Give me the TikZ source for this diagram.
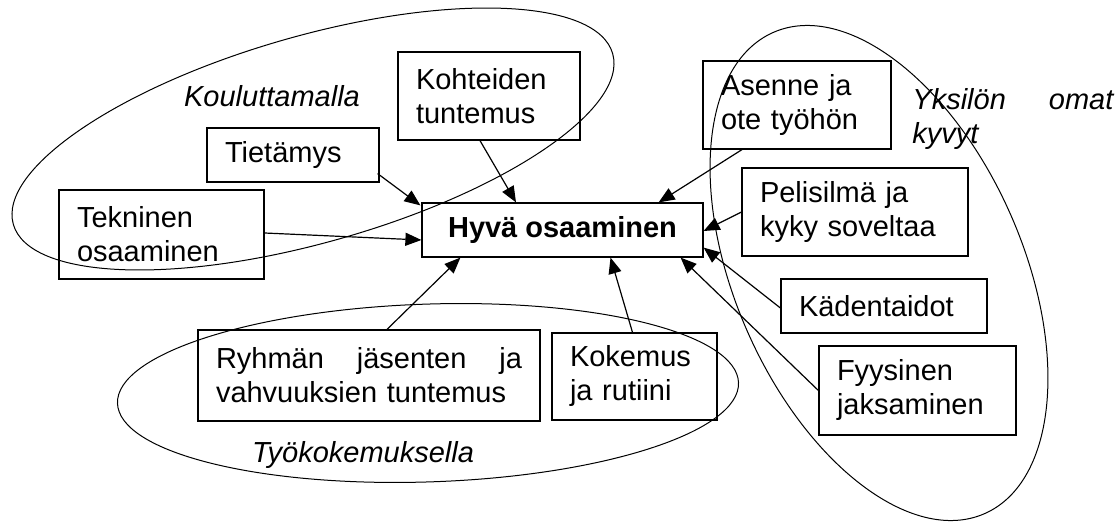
\documentclass[tikz,border=0pt]{standalone}
\usepackage{fontspec}
\setmainfont{Liberation Sans}
\usetikzlibrary{calc,arrows.meta}

\tikzset{
  laatikko/.style={draw, line width=0.6pt, inner xsep=9pt, inner ysep=0pt, align=left,
    font=\fontsize{14.5}{17}\selectfont},
  nuoli/.style={-{Triangle[length=8pt,width=6.5pt]}, line width=0.6pt},
  kehys/.style={line width=0.5pt},
  otsikko/.style={font=\fontsize{14.5}{17}\selectfont\itshape, inner sep=0pt}
}

\begin{document}
\begin{tikzpicture}[x=0.5pt,y=-0.5pt]
\useasboundingbox (0,0) rectangle (1120,524);

\node[laatikko, minimum width=140.5pt, minimum height=27pt, align=center,
  font=\fontsize{14.5}{17}\selectfont\bfseries] (hyva) at (562.5,230) {Hyvä osaaminen};

\node[laatikko, text width=73pt, minimum height=44pt] (kohteet) at (489,96) {Kohteiden\\tuntemus};
\node[laatikko, text width=68pt, minimum height=27pt] (tieto) at (293,155) {Tietämys};
\node[laatikko, text width=84.5pt, minimum height=44.5pt] (tekn) at (161.5,234.5) {Tekninen\\osaaminen};
\node[laatikko, text width=76pt, minimum height=44pt] (asenne) at (797,105) {Asenne ja\\ote työhön};
\node[laatikko, text width=95pt, minimum height=44pt] (peli) at (855,212) {Pelisilmä ja\\kyky soveltaa};
\node[laatikko, text width=85pt, minimum height=27pt] (kaden) at (884,306) {Kädentaidot};
\node[laatikko, text width=80.5pt, minimum height=44.5pt] (fyys) at (917.5,390.5) {Fyysinen\\jaksaminen};
\node[laatikko, text width=153pt, minimum height=45.5pt] (ryhma) at (369,375.5)
  {Ryhmän\hspace{\fill} jäsenten\hspace{\fill} ja\\vahvuuksien tuntemus};
\node[laatikko, text width=64.5pt, minimum height=43.5pt] (kokemus) at (634.5,376.5) {Kokemus\\ja rutiini};

\node[otsikko, anchor=base] (koulu) at (272,107) {Kouluttamalla};
\node[otsikko, anchor=base west, text width=100.5pt, align=left] (yksilo) at (912,110)
  {Yksilön\hspace{\fill} omat\\kyvyt};
\node[otsikko, anchor=base] (tyokok) at (363,462) {Työkokemuksella};

\draw[kehys, rotate around={15.9:(313,139)}] (313,139) ellipse [x radius=155.8pt, y radius=51.65pt];
\draw[kehys, rotate around={1.9:(428,393)}] (428,393) ellipse [x radius=155.35pt, y radius=44.45pt];
\draw[kehys, rotate around={23.7:(879,273)}] (879,273) ellipse [x radius=72pt, y radius=131.4pt];

\draw[nuoli] ($(tieto.south east)+(-2,-9)$) -- ($(hyva.north west)+(-1,3)$);
\draw[nuoli] ($(kohteet.south)+(-9,0)$) -- ($(hyva.north)+(-46.5,0)$);
\draw[nuoli] ($(tekn.east)+(0,-1.5)$) -- ($(hyva.west)+(0,10)$);
\draw[nuoli] ($(asenne.south)+(-55,0)$) -- ($(hyva.north east)+(-45,0)$);
\draw[nuoli] (peli.west) -- ($(hyva.east)+(0,1)$);
\draw[nuoli] ($(kaden.west)+(0,2)$) -- ($(hyva.south east)+(0,-10)$);
\draw[nuoli] (fyys.west) -- ($(hyva.south east)+(-23,0)$);
\draw[nuoli] ($(kokemus.north)+(-2,0)$) -- ($(hyva.south)+(48,0)$);
\draw[nuoli] ($(ryhma.north)+(18,0)$) -- ($(hyva.south west)+(39,0)$);
\end{tikzpicture}
\end{document}
